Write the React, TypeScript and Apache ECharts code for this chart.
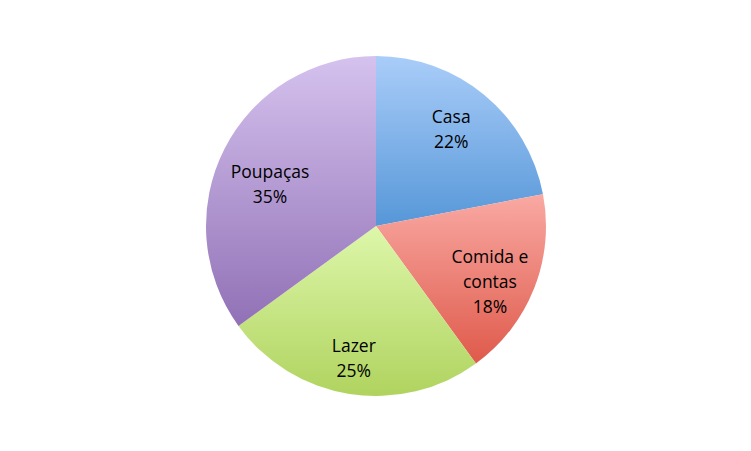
import React, { useEffect, useRef } from "react";
import * as echarts from "echarts";

const categories = ["Casa", "Comida e contas", "Lazer", "Poupaças"];
const labelTexts = ["Casa", "Comida e\ncontas", "Lazer", "Poupaças"];
const values = [22, 18, 25, 35];

const topColors = ["#aacdf9", "#f9a9a3", "#ddf7aa", "#d5c2ee"];
const bottomColors = ["#5697d8", "#df5a4b", "#b0d35f", "#9171b6"];
const labelNudges: number[][] = [[-7, 2], [-6, 8], [-2, 4], [9, 16]];

export default function App() {
  const ref = useRef<HTMLDivElement>(null);
  useEffect(() => {
    if (!ref.current) return;
    const chart = echarts.init(ref.current, undefined, { renderer: "svg" });
    const mainData = categories.map((name, i) => ({
      name,
      value: values[i],
      itemStyle: {
        color: new echarts.graphic.LinearGradient(0, 0, 0, 1, [
          { offset: 0, color: topColors[i] },
          { offset: 1, color: bottomColors[i] },
        ]),
      },
    }));
    const labelData = categories.map((name, i) => ({
      name,
      value: values[i],
      label: {
        formatter: labelTexts[i] + "\n" + values[i] + "%",
        offset: labelNudges[i],
      },
    }));
    chart.setOption({
      animation: false,
      backgroundColor: "#ffffff",
      series: [
        {
          type: "pie",
          center: [376, 226],
          radius: [0, 170],
          startAngle: 90,
          clockwise: true,
          silent: true,
          label: { show: false },
          labelLine: { show: false },
          itemStyle: { borderWidth: 0 },
          data: mainData,
        },
        {
          type: "pie",
          center: [376, 226],
          radius: [82, 170],
          startAngle: 90,
          clockwise: true,
          silent: true,
          itemStyle: { color: "rgba(0,0,0,0)", borderWidth: 0 },
          label: {
            show: true,
            position: "inside",
            color: "#000000",
            fontFamily: "Open Sans",
            fontSize: 17.5,
            lineHeight: 25,
            align: "center",
          },
          labelLine: { show: false },
          data: labelData,
        },
      ],
    });
    return () => chart.dispose();
  }, []);
  return (
    <div
      ref={ref}
      style={{ position: "absolute", left: 0, top: 0, width: 751, height: 451 }}
    />
  );
}
